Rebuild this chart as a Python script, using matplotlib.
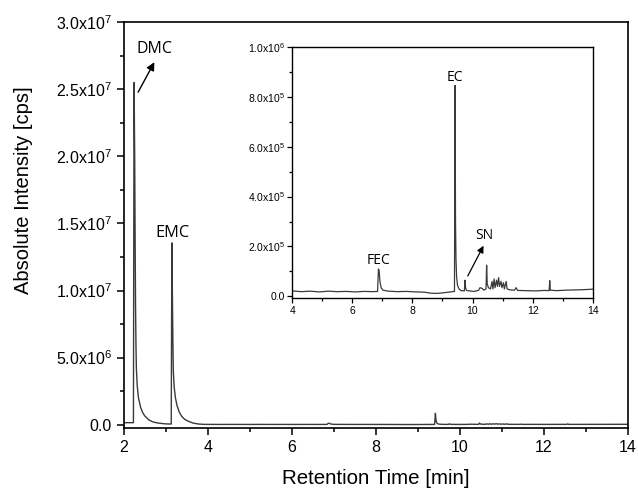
import matplotlib
matplotlib.use("Agg")
import matplotlib.pyplot as plt
from matplotlib.ticker import MultipleLocator, FixedLocator

plt.rcParams['font.family'] = ['Liberation Sans', 'DejaVu Sans']
plt.rcParams['mathtext.fontset'] = 'custom'
plt.rcParams['mathtext.rm'] = 'Liberation Sans'
plt.rcParams['mathtext.default'] = 'regular'

# chromatogram trace (min, cps)
TIME = [2.00, 2.23, 2.245, 2.26, 2.27, 2.28, 2.29, 2.30, 2.32, 2.35, 2.40, 2.45, 2.50,
        2.60, 2.70, 2.80, 2.90, 3.00, 3.10, 3.13,
        3.145, 3.16, 3.17, 3.18, 3.20, 3.23, 3.27, 3.32, 3.38, 3.45, 3.54, 3.65, 3.78,
        3.90, 4.00, 4.30, 4.60, 4.90, 5.20, 5.50, 5.80, 6.10, 6.40, 6.70, 6.84,
        6.87, 6.89, 6.92, 6.96, 7.02, 7.20, 7.50, 7.80, 8.10, 8.40, 8.60, 8.80, 9.00,
        9.20, 9.40, 9.42, 9.435, 9.45, 9.47, 9.50, 9.55, 9.62, 9.73, 9.75, 9.77, 9.80,
        9.90, 10.05, 10.20, 10.25, 10.32, 10.38, 10.45, 10.47, 10.49, 10.53, 10.60,
        10.65, 10.68, 10.72, 10.75, 10.80, 10.83, 10.87, 10.90, 10.95, 10.98, 11.03,
        11.06, 11.12, 11.15, 11.25, 11.40, 11.45, 11.50, 11.80, 12.10, 12.40, 12.55,
        12.57, 12.59, 12.80, 13.10, 13.40, 13.70, 14.00]
INTENSITY = [1.5e5, 1.5e5, 2.55e7, 2.0e7, 1.4e7, 9.0e6, 6.0e6, 4.2e6, 2.9e6, 2.0e6, 1.3e6, 9.0e5, 6.5e5,
             3.5e5, 2.0e5, 1.3e5, 9.0e4, 6.0e4, 5.0e4, 5.0e4,
             1.355e7, 9.0e6, 6.0e6, 4.0e6, 2.8e6, 2.0e6, 1.4e6, 9.5e5, 6.2e5, 4.0e5, 2.5e5, 1.2e5, 5.0e4,
             2.5e4, 2.2e4, 1.9e4, 2.1e4, 1.8e4, 2.1e4, 1.9e4, 2.0e4, 1.8e4, 2.0e4, 1.9e4, 2.0e4,
             1.1e5, 1.05e5, 6.0e4, 3.5e4, 2.5e4, 2.1e4, 1.9e4, 2.0e4, 1.8e4, 1.7e4, 1.3e4, 1.2e4, 1.4e4,
             1.7e4, 2.0e4, 8.45e5, 3.0e5, 1.5e5, 8.0e4, 4.5e4, 3.0e4, 2.3e4, 2.2e4, 6.5e4, 3.5e4, 2.4e4,
             2.2e4, 2.0e4, 2.4e4, 3.5e4, 3.2e4, 2.5e4, 3.0e4, 1.25e5, 5.0e4, 3.5e4, 3.0e4,
             6.0e4, 3.0e4, 7.0e4, 3.5e4, 6.5e4, 4.0e4, 7.5e4, 4.0e4, 6.0e4, 3.5e4, 5.5e4,
             3.0e4, 6.0e4, 3.0e4, 2.6e4, 2.5e4, 3.5e4, 2.4e4, 2.3e4, 2.2e4, 2.4e4, 2.3e4,
             6.3e4, 2.5e4, 2.3e4, 2.5e4, 2.6e4, 2.7e4, 2.9e4]

MAIN_YTICKS = [0, 5e6, 1e7, 1.5e7, 2e7, 2.5e7, 3e7]
MAIN_YLABELS = ["0.0", "5.0x10$^{6}$", "1.0x10$^{7}$", "1.5x10$^{7}$",
                "2.0x10$^{7}$", "2.5x10$^{7}$", "3.0x10$^{7}$"]
INSET_YTICKS = [0, 2e5, 4e5, 6e5, 8e5, 1e6]
INSET_YLABELS = ["0.0", "2.0x10$^{5}$", "4.0x10$^{5}$", "6.0x10$^{5}$",
                 "8.0x10$^{5}$", "1.0x10$^{6}$"]

LINE = "#3a3a3a"
LABEL_FONT = ['Open Sans', 'DejaVu Sans']

fig = plt.figure(figsize=(6.38, 4.92), dpi=100)
ax = fig.add_axes([0.194, 0.130, 0.790, 0.825])
ax.plot(TIME, INTENSITY, color=LINE, lw=1.0)
ax.set_xlim(2, 14)
ax.set_ylim(-2.5e5, 3.0e7)
ax.xaxis.set_major_locator(MultipleLocator(2))
ax.xaxis.set_minor_locator(MultipleLocator(1))
ax.yaxis.set_major_locator(FixedLocator(MAIN_YTICKS))
ax.set_yticklabels(MAIN_YLABELS)
ax.yaxis.set_minor_locator(MultipleLocator(2.5e6))
ax.tick_params(which='both', direction='out', top=False, right=False, labelsize=11.5, width=1.1)
ax.tick_params(which='major', length=5)
ax.tick_params(which='minor', length=3)
for s in ax.spines.values():
    s.set_linewidth(1.2)
ax.set_xlabel("Retention Time [min]", fontsize=14.8, labelpad=10)
ax.set_ylabel("Absolute Intensity [cps]", fontsize=14.5)
ax.yaxis.set_label_coords(-0.18, 0.586)

ax.text(2.72, 2.80e7, "DMC", family=LABEL_FONT, fontsize=11.5, ha='center', va='center')
ax.annotate("", xy=(2.76, 2.72e7), xytext=(2.31, 2.46e7),
            arrowprops=dict(arrowstyle='-|>', color='black', lw=1.0, mutation_scale=12))
ax.text(3.16, 1.43e7, "EMC", family=LABEL_FONT, fontsize=11.8, ha='center', va='center')

# inset
axi = fig.add_axes([0.458, 0.394, 0.471, 0.511])
axi.plot(TIME, INTENSITY, color=LINE, lw=0.9)
axi.set_xlim(4, 14)
axi.set_ylim(-7e3, 1.0e6)
axi.xaxis.set_major_locator(MultipleLocator(2))
axi.xaxis.set_minor_locator(MultipleLocator(1))
axi.yaxis.set_major_locator(FixedLocator(INSET_YTICKS))
axi.set_yticklabels(INSET_YLABELS)
axi.yaxis.set_minor_locator(MultipleLocator(1e5))
axi.tick_params(which='both', direction='out', top=False, right=False, labelsize=7.5, width=0.9, pad=2)
axi.tick_params(which='major', length=3.5)
axi.tick_params(which='minor', length=2)
for s in axi.spines.values():
    s.set_linewidth(1.0)

axi.text(9.42, 8.76e5, "EC", family=LABEL_FONT, fontsize=10, ha='center', va='center')
axi.text(6.86, 1.45e5, "FEC", family=LABEL_FONT, fontsize=10, ha='center', va='center')
axi.text(10.38, 2.45e5, "SN", family=LABEL_FONT, fontsize=10, ha='center', va='center')
axi.annotate("", xy=(10.41, 2.13e5), xytext=(9.80, 7.2e4),
             arrowprops=dict(arrowstyle='-|>', color='black', lw=0.9, mutation_scale=10))

fig.savefig("out.png", dpi=100)
